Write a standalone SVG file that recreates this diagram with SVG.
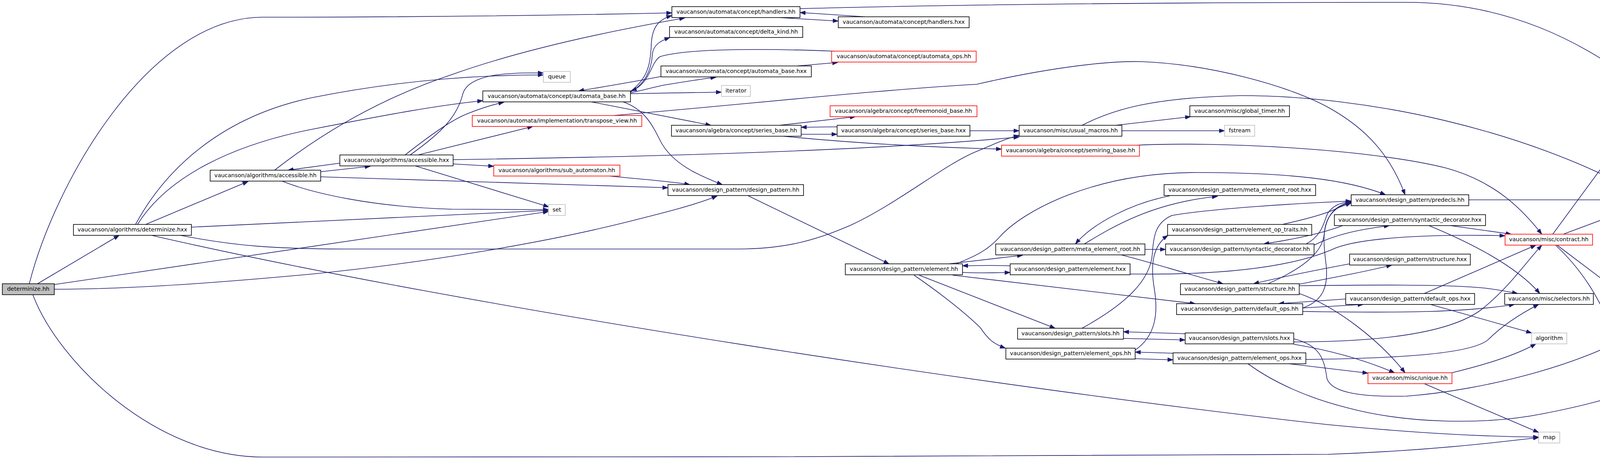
<svg xmlns="http://www.w3.org/2000/svg" width="4626" height="1176" viewBox="0 0 4626 1176">
<style>
.n rect{fill:#fff;stroke:#000;stroke-width:1.6}
.g rect{stroke:#bfbfbf}
.r rect{stroke:#ff0000}
.root rect{fill:#bfbfbf}
text{font-family:"DejaVu Sans","Liberation Sans",sans-serif;font-size:14.4px;text-anchor:middle;fill:#000}
#edges path{fill:none;stroke:#191970;stroke-width:1.6;marker-end:url(#a)}
</style>
<defs>
<marker id="a" markerWidth="16" markerHeight="12" refX="14" refY="5.5" orient="auto" markerUnits="userSpaceOnUse"><path d="M0,0.5 L14,5.5 L0,10.5 z" fill="#191970" stroke="#191970" stroke-width="1"/></marker>
</defs>
<rect width="4626" height="1176" fill="#fff"/>
<g id="edges">
<path d="M75,727 C140,470 380,44 673,44 C1000,44 1400,40 1720,33"/>
<path d="M96,727 L305,603"/>
<path d="M139,729 L1404,542"/>
<path d="M139,741 C300,741 500,730 800,702 C1100,672 1400,620 1600,570 C1700,545 1780,525 1836,502"/>
<path d="M84,755 C150,930 400,1171 673,1171 C1500,1171 2600,1171 3400,1164 C3650,1155 3820,1135 3939,1121"/>
<path d="M373,575 L635,465"/>
<path d="M347,575 C420,440 560,300 800,250 C1000,210 1200,192 1391,192"/>
<path d="M352,575 C430,450 600,370 800,331 C1000,292 1120,270 1236,258"/>
<path d="M490,582 L1404,539"/>
<path d="M462,603 C600,630 700,638 900,638 L1887,638 C2000,638 2080,620 2180,576 C2300,520 2420,420 2500,388 C2540,372 2570,356 2609,347"/>
<path d="M388,603 C1200,790 2600,1000 3400,1088 C3650,1112 3800,1118 3939,1120"/>
<path d="M703,436 C800,360 950,260 1157,191 C1300,140 1500,90 1753,46"/>
<path d="M821,440 L948,426"/>
<path d="M870,418 L737,436"/>
<path d="M821,453 C1200,465 1500,476 1710,481"/>
<path d="M722,464 C800,495 950,530 1157,536 L1404,537"/>
<path d="M1050,397 C1130,340 1170,300 1185,240 C1200,190 1300,185 1391,187"/>
<path d="M1037,397 C1110,340 1160,305 1200,290 C1230,278 1260,268 1290,262"/>
<path d="M1070,397 L1364,324"/>
<path d="M1160,409 C1800,400 2300,380 2609,351"/>
<path d="M1160,420 L1264,426"/>
<path d="M1063,425 L1405,530"/>
<path d="M1560,451 C1650,460 1720,465 1766,473"/>
<path d="M1614,234 C1660,200 1665,160 1667,120 C1668,70 1685,50 1720,40"/>
<path d="M1614,236 C1650,215 1668,180 1670,140 C1672,115 1690,105 1715,96"/>
<path d="M2136,131 C1950,124 1760,124 1690,145 C1665,160 1665,215 1616,233"/>
<path d="M1614,238 C1650,230 1680,222 1700,218 C1750,210 1790,203 1833,198"/>
<path d="M1692,196 C1640,206 1560,220 1481,233"/>
<path d="M1614,240 L1847,236"/>
<path d="M1514,261 L1820,321"/>
<path d="M1595,261 C1650,280 1670,320 1690,360 C1720,420 1790,450 1849,473"/>
<path d="M1570,296 C1900,268 2250,230 2500,216 C2700,170 2850,155 2925,158 C3100,165 3300,220 3400,275 C3500,330 3560,400 3597,499"/>
<path d="M1995,45 L2146,54"/>
<path d="M2215,43 L2048,32"/>
<path d="M2048,22 C2600,8 3200,6 3600,6 C3850,6 4050,100 4214,233"/>
<path d="M2040,169 L2145,160"/>
<path d="M1995,321 L2190,299"/>
<path d="M2143,325 L2051,326"/>
<path d="M2051,344 L2143,344"/>
<path d="M2483,335 L2609,335"/>
<path d="M2005,349 C2200,368 2400,378 2564,382"/>
<path d="M1916,502 L2276,676"/>
<path d="M2856,321 L3048,299"/>
<path d="M2872,335 L3135,335"/>
<path d="M2770,321 C2850,280 2950,250 3177,245 C3500,245 3900,330 4205,499"/>
<path d="M2910,372 C3100,362 3500,380 3700,430 C3830,465 3900,540 3947,600"/>
<path d="M2429,676 L2618,654"/>
<path d="M2464,698 C2510,700 2550,699 2586,698"/>
<path d="M2586,681 C2550,680 2510,680 2464,681"/>
<path d="M2448,676 C2500,655 2530,640 2560,606 C2620,540 2800,442 3063,442 C3300,442 3450,460 3547,499"/>
<path d="M2776,625 C2850,580 2950,520 3117,503"/>
<path d="M2994,502 C2900,520 2800,570 2753,625"/>
<path d="M2931,639 L2984,639"/>
<path d="M2870,653 C2920,665 3000,690 3131,727"/>
<path d="M2439,705 L3060,778"/>
<path d="M2353,705 L2701,841"/>
<path d="M2340,705 C2420,760 2480,810 2510,840 C2530,870 2545,882 2574,892"/>
<path d="M2876,867 L3034,871"/>
<path d="M3034,855 L2876,850"/>
<path d="M2906,919 L3003,922"/>
<path d="M3003,905 L2906,902"/>
<path d="M2770,841 C2880,780 2945,720 2950,650 C2953,600 2960,570 3000,552 C3100,535 3300,522 3459,515"/>
<path d="M2906,897 C2960,860 2965,800 2955,740 C2945,680 2950,630 2990,603"/>
<path d="M3364,628 C3420,600 3480,588 3557,578"/>
<path d="M3437,578 C3380,600 3300,615 3235,625"/>
<path d="M3344,625 C3390,600 3390,560 3400,545 C3415,525 3430,520 3459,516"/>
<path d="M3283,575 C3350,560 3400,545 3420,535 C3435,528 3445,525 3459,520"/>
<path d="M3246,727 C3330,690 3385,650 3390,600 C3395,550 3420,525 3459,517"/>
<path d="M3335,789 C3390,770 3400,730 3395,680 C3385,600 3380,540 3459,518"/>
<path d="M3326,728 C3420,710 3500,695 3563,679"/>
<path d="M3455,676 C3380,690 3280,710 3209,727"/>
<path d="M3326,732 C3500,730 3700,728 3800,738 C3840,743 3865,748 3885,752"/>
<path d="M3326,752 C3420,785 3530,870 3597,955"/>
<path d="M3335,789 L3490,780"/>
<path d="M3445,766 L3273,778"/>
<path d="M3335,798 C3600,802 3750,800 3877,780"/>
<path d="M3312,876 C3500,876 3700,860 3790,795 C3860,740 3900,680 3947,628"/>
<path d="M3312,882 C3420,900 3500,925 3570,955"/>
<path d="M3312,868 C3380,885 3390,920 3397,970 C3410,1010 3500,1017 3600,1015 C3800,1000 4080,930 4217,831"/>
<path d="M3343,921 C3600,918 3770,905 3810,870 C3850,830 3900,800 3939,780"/>
<path d="M3300,932 L3502,956"/>
<path d="M3195,932 C3260,980 3350,1020 3450,1045 C3600,1085 3800,1090 3950,1060 C4080,1035 4160,1010 4221,983"/>
<path d="M3760,512 L4128,512"/>
<path d="M4315,499 L4437,476"/>
<path d="M4355,522 L4405,522"/>
<path d="M4405,503 L4355,503"/>
<path d="M3713,578 L3869,600"/>
<path d="M3658,578 C3760,620 3880,680 3942,752"/>
<path d="M3646,752 L3932,628"/>
<path d="M3662,780 L3921,853"/>
<path d="M3717,955 C3800,935 3880,910 3932,881"/>
<path d="M3646,983 L3939,1108"/>
<path d="M3975,600 L4224,261"/>
<path d="M4002,600 L4197,527"/>
<path d="M3986,628 L4217,803"/>
<path d="M3982,628 C4060,700 4100,780 4130,850 C4160,910 4190,930 4221,955"/>
<path d="M2893,702 C3100,705 3300,690 3420,635 C3500,605 3700,600 3853,604"/>
</g>
<g id="n0" class="n root"><rect x="6" y="727" width="133" height="28"/><text x="72.5" y="745">determinize.hh</text></g>
<g id="n1" class="n"><rect x="188" y="575" width="302" height="28"/><text x="339" y="593">vaucanson/algorithms/determinize.hxx</text></g>
<g id="n2" class="n"><rect x="538" y="436" width="283" height="28"/><text x="679.5" y="454">vaucanson/algorithms/accessible.hh</text></g>
<g id="n3" class="n"><rect x="870" y="397" width="290" height="28"/><text x="1015" y="415">vaucanson/algorithms/accessible.hxx</text></g>
<g id="n4" class="n g"><rect x="1391" y="183" width="69" height="28"/><text x="1425.5" y="201">queue</text></g>
<g id="n5" class="n"><rect x="1236" y="233" width="378" height="28"/><text x="1425" y="251">vaucanson/automata/concept/automata_base.hh</text></g>
<g id="n6" class="n r"><rect x="1209" y="296" width="434" height="28"/><text x="1426" y="314">vaucanson/automata/implementation/transpose_view.hh</text></g>
<g id="n7" class="n r"><rect x="1264" y="423" width="323" height="28"/><text x="1425.5" y="441">vaucanson/algorithms/sub_automaton.hh</text></g>
<g id="n8" class="n g"><rect x="1404" y="524" width="43" height="28"/><text x="1425.5" y="542">set</text></g>
<g id="n9" class="n"><rect x="1720" y="17" width="328" height="28"/><text x="1884" y="35">vaucanson/automata/concept/handlers.hh</text></g>
<g id="n10" class="n"><rect x="2146" y="43" width="335" height="28"/><text x="2313.5" y="61">vaucanson/automata/concept/handlers.hxx</text></g>
<g id="n11" class="n"><rect x="1714" y="68" width="341" height="28"/><text x="1884.5" y="86">vaucanson/automata/concept/delta_kind.hh</text></g>
<g id="n12" class="n r"><rect x="2129" y="131" width="370" height="28"/><text x="2314" y="149">vaucanson/automata/concept/automata_ops.hh</text></g>
<g id="n13" class="n"><rect x="1692" y="169" width="385" height="28"/><text x="1884.5" y="187">vaucanson/automata/concept/automata_base.hxx</text></g>
<g id="n14" class="n g"><rect x="1847" y="219" width="74" height="28"/><text x="1884" y="237">iterator</text></g>
<g id="n15" class="n r"><rect x="2125" y="271" width="376" height="28"/><text x="2313" y="289">vaucanson/algebra/concept/freemonoid_base.hh</text></g>
<g id="n16" class="n"><rect x="1719" y="321" width="332" height="28"/><text x="1885" y="339">vaucanson/algebra/concept/series_base.hh</text></g>
<g id="n17" class="n"><rect x="2143" y="321" width="340" height="28"/><text x="2313" y="339">vaucanson/algebra/concept/series_base.hxx</text></g>
<g id="n18" class="n"><rect x="1710" y="473" width="347" height="28"/><text x="1883.5" y="491">vaucanson/design_pattern/design_pattern.hh</text></g>
<g id="n19" class="n r"><rect x="2564" y="372" width="353" height="28"/><text x="2740.5" y="390">vaucanson/algebra/concept/semiring_base.hh</text></g>
<g id="n20" class="n"><rect x="2609" y="321" width="263" height="28"/><text x="2740.5" y="339">vaucanson/misc/usual_macros.hh</text></g>
<g id="n21" class="n"><rect x="3046" y="271" width="255" height="28"/><text x="3173.5" y="289">vaucanson/misc/global_timer.hh</text></g>
<g id="n22" class="n g"><rect x="3135" y="321" width="77" height="28"/><text x="3173.5" y="339">fstream</text></g>
<g id="n23" class="n"><rect x="2164" y="676" width="300" height="28"/><text x="2314" y="694">vaucanson/design_pattern/element.hh</text></g>
<g id="n24" class="n"><rect x="2980" y="473" width="388" height="28"/><text x="3174" y="491">vaucanson/design_pattern/meta_element_root.hxx</text></g>
<g id="n25" class="n"><rect x="2989" y="575" width="369" height="28"/><text x="3173.5" y="593">vaucanson/design_pattern/element_op_traits.hh</text></g>
<g id="n26" class="n"><rect x="2549" y="625" width="382" height="28"/><text x="2740" y="643">vaucanson/design_pattern/meta_element_root.hh</text></g>
<g id="n27" class="n"><rect x="2984" y="625" width="380" height="28"/><text x="3174" y="643">vaucanson/design_pattern/syntactic_decorator.hh</text></g>
<g id="n28" class="n"><rect x="2586" y="676" width="307" height="28"/><text x="2739.5" y="694">vaucanson/design_pattern/element.hxx</text></g>
<g id="n29" class="n"><rect x="3022" y="727" width="304" height="28"/><text x="3174" y="745">vaucanson/design_pattern/structure.hh</text></g>
<g id="n30" class="n"><rect x="3012" y="778" width="323" height="28"/><text x="3173.5" y="796">vaucanson/design_pattern/default_ops.hh</text></g>
<g id="n31" class="n"><rect x="2605" y="841" width="271" height="28"/><text x="2740.5" y="859">vaucanson/design_pattern/slots.hh</text></g>
<g id="n32" class="n"><rect x="3034" y="853" width="278" height="28"/><text x="3173" y="871">vaucanson/design_pattern/slots.hxx</text></g>
<g id="n33" class="n"><rect x="2575" y="892" width="331" height="28"/><text x="2740.5" y="910">vaucanson/design_pattern/element_ops.hh</text></g>
<g id="n34" class="n"><rect x="3003" y="904" width="340" height="28"/><text x="3173" y="922">vaucanson/design_pattern/element_ops.hxx</text></g>
<g id="n35" class="n g"><rect x="4198" y="233" width="86" height="28"/><text x="4241" y="251">iostream</text></g>
<g id="n36" class="n g"><rect x="4404" y="448" width="217" height="28"/><text x="4512.5" y="466">vaucanson/config/pconf.hh</text></g>
<g id="n37" class="n"><rect x="3459" y="499" width="301" height="28"/><text x="3609.5" y="517">vaucanson/design_pattern/predecls.hh</text></g>
<g id="n38" class="n"><rect x="4128" y="499" width="227" height="28"/><text x="4241.5" y="517">vaucanson/config/system.hh</text></g>
<g id="n39" class="n r"><rect x="4405" y="499" width="215" height="28"/><text x="4512.5" y="517">vaucanson/config/math.hh</text></g>
<g id="n40" class="n"><rect x="3416" y="550" width="387" height="28"/><text x="3609.5" y="568">vaucanson/design_pattern/syntactic_decorator.hxx</text></g>
<g id="n41" class="n r"><rect x="3853" y="600" width="224" height="28"/><text x="3965" y="618">vaucanson/misc/contract.hh</text></g>
<g id="n42" class="n"><rect x="3455" y="651" width="309" height="28"/><text x="3609.5" y="669">vaucanson/design_pattern/structure.hxx</text></g>
<g id="n43" class="n"><rect x="3445" y="752" width="330" height="28"/><text x="3610" y="770">vaucanson/design_pattern/default_ops.hxx</text></g>
<g id="n44" class="n"><rect x="3852" y="752" width="227" height="28"/><text x="3965.5" y="770">vaucanson/misc/selectors.hh</text></g>
<g id="n45" class="n g"><rect x="4208" y="803" width="69" height="28"/><text x="4242.5" y="821">cstdlib</text></g>
<g id="n46" class="n g"><rect x="3921" y="853" width="90" height="28"/><text x="3966" y="871">algorithm</text></g>
<g id="n47" class="n r"><rect x="3502" y="955" width="215" height="28"/><text x="3609.5" y="973">vaucanson/misc/unique.hh</text></g>
<g id="n48" class="n r"><rect x="4140" y="955" width="203" height="28"/><text x="4241.5" y="973">vaucanson/misc/static.hh</text></g>
<g id="n49" class="n g"><rect x="3939" y="1107" width="54" height="28"/><text x="3966" y="1125">map</text></g>
</svg>
